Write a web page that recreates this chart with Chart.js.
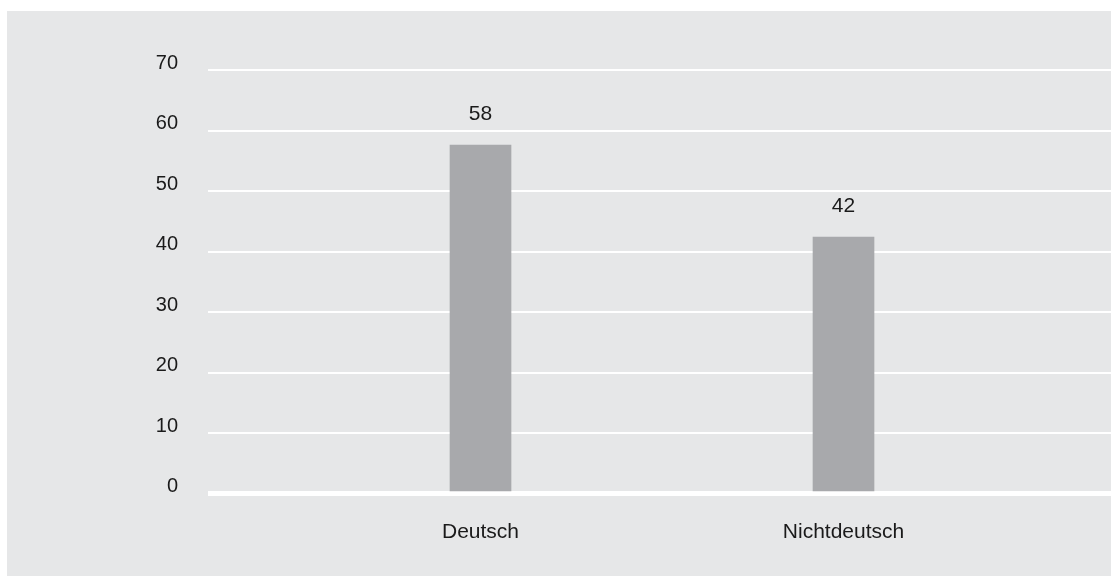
<!DOCTYPE html>
<html>
<head>
<meta charset="utf-8">
<script src="https://cdn.jsdelivr.net/npm/chart.js@4/dist/chart.umd.min.js"></script>
<style>
  html, body { margin: 0; padding: 0; background: #ffffff; }
  #panel { position: absolute; left: 7px; top: 11px; width: 1104px; height: 565px; background: #e6e7e8; }
  #c { display: block; }
</style>
</head>
<body>
<div id="panel"><canvas id="c" width="1104" height="565"></canvas></div>
<script>
const categories = ['Deutsch', 'Nichtdeutsch'];
const values = [57.6, 42.4];
const yTicks = [0, 10, 20, 30, 40, 50, 60, 70];

const FONT = '"Liberation Sans", Arial, Helvetica, sans-serif';
const TEXT = '#1a1a1a';

const valueLabels = {
  id: 'valueLabels',
  afterDatasetsDraw(chart) {
    const ctx = chart.ctx;
    const meta = chart.getDatasetMeta(0);
    ctx.save();
    ctx.font = '21px ' + FONT;
    ctx.fillStyle = TEXT;
    ctx.textAlign = 'center';
    ctx.textBaseline = 'alphabetic';
    meta.data.forEach((bar, i) => {
      ctx.fillText(String(Math.round(values[i])), bar.x, bar.y - 25);
    });
    ctx.restore();
  }
};

new Chart(document.getElementById('c'), {
  type: 'bar',
  data: {
    datasets: [{
      data: categories.map((c, i) => ({ x: i, y: values[i] })),
      backgroundColor: '#a8a9ac',
      borderWidth: 0,
      barThickness: 61
    }]
  },
  options: {
    responsive: false,
    animation: false,
    layout: { padding: { top: 59, left: 0, right: 0, bottom: 0 } },
    plugins: { legend: { display: false }, tooltip: { enabled: false } },
    scales: {
      x: {
        type: 'linear',
        offset: false,
        bounds: 'data',
        min: -0.7507,
        max: 1.7369,
        grid: { display: false, drawTicks: false, offset: false },
        border: { display: false },
        afterBuildTicks: (s) => { s.ticks = categories.map((_, i) => ({ value: i })); },
        afterFit: (s) => { s.height = 82.5; },
        ticks: {
          autoSkip: false,
          maxRotation: 0,
          padding: 26,
          color: TEXT,
          font: { family: FONT, size: 21 },
          callback: (v) => categories[v] ?? ''
        }
      },
      y: {
        min: 0,
        max: 70,
        afterBuildTicks: (s) => { s.ticks = yTicks.map(v => ({ value: v })); },
        afterFit: (s) => { s.width = 201; },
        grid: {
          color: '#ffffff',
          lineWidth: (ctx) => (ctx.tick && ctx.tick.value === 0 ? 5 : 2),
          drawTicks: false
        },
        border: { display: false },
        ticks: {
          padding: 30,
          labelOffset: -7,
          color: TEXT,
          font: { family: FONT, size: 20 }
        }
      }
    }
  },
  plugins: [valueLabels]
});
</script>
</body>
</html>
